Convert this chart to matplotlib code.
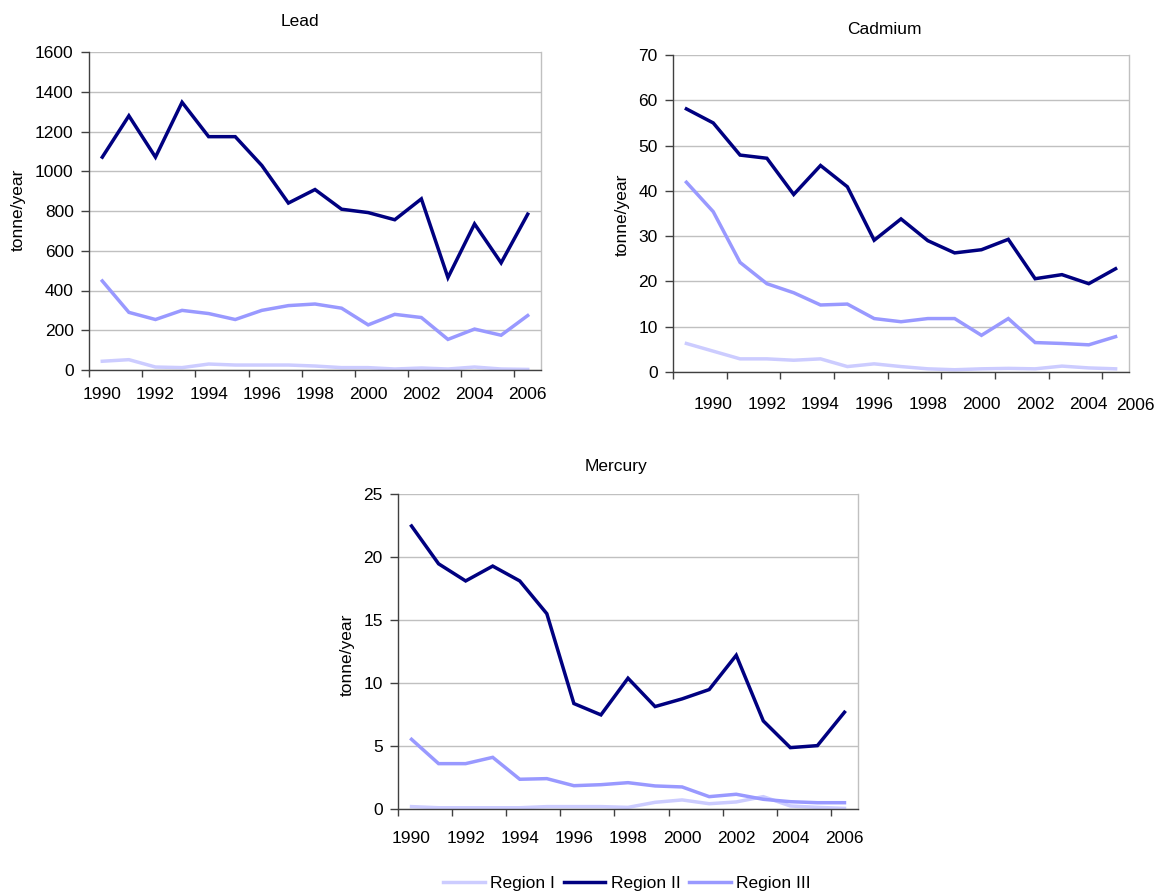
import matplotlib
matplotlib.use("Agg")
import matplotlib.pyplot as plt
from matplotlib.lines import Line2D
import numpy as np

plt.rcParams['font.family'] = ['Liberation Sans', 'DejaVu Sans']

years = list(range(1990, 2007))
series_names = ["Region I", "Region II", "Region III"]
colors = ["#CCCCFF", "#000080", "#9999FF"]

# Lead, tonne/year
lead_r1 = [44, 52, 15, 12, 30, 25, 25, 25, 20, 12, 12, 5, 10, 5, 15, 5, 3]
lead_r2 = [1071, 1279, 1071, 1347, 1174, 1174, 1029, 840, 908, 809, 792, 756, 861, 465, 735, 539, 784]
lead_r3 = [448, 290, 254, 300, 284, 254, 300, 324, 332, 311, 227, 280, 264, 154, 206, 175, 274]

# Cadmium, tonne/year
cad_r1 = [6.3, 4.6, 2.9, 2.9, 2.6, 2.9, 1.2, 1.8, 1.2, 0.7, 0.5, 0.7, 0.8, 0.7, 1.3, 0.9, 0.7]
cad_r2 = [58.1, 55.0, 47.9, 47.2, 39.2, 45.6, 40.9, 29.1, 33.8, 29.0, 26.3, 27.0, 29.3, 20.6, 21.5, 19.5, 22.8]
cad_r3 = [41.9, 35.4, 24.2, 19.5, 17.5, 14.8, 15.0, 11.8, 11.1, 11.8, 11.8, 8.1, 11.8, 6.5, 6.3, 6.0, 7.8]

# Mercury, tonne/year
hg_r1 = [0.19, 0.10, 0.10, 0.10, 0.10, 0.19, 0.19, 0.19, 0.13, 0.53, 0.72, 0.42, 0.56, 0.98, 0.24, 0.13, 0.05]
hg_r2 = [22.46, 19.46, 18.1, 19.28, 18.1, 15.5, 8.37, 7.47, 10.38, 8.13, 8.74, 9.48, 12.2, 6.99, 4.87, 5.03, 7.68]
hg_r3 = [5.53, 3.6, 3.6, 4.1, 2.36, 2.41, 1.85, 1.93, 2.09, 1.83, 1.75, 0.98, 1.17, 0.77, 0.58, 0.5, 0.5]

FS = 12.5
W, H = 1158, 892
fig = plt.figure(figsize=(W / 100, H / 100), dpi=100)


def px_axes(left, top, right, bottom):
    return fig.add_axes([left / W, 1 - bottom / H, (right - left) / W, (bottom - top) / H])


def style_axes(ax, ymax, ystep, xpad, label_offset=0):
    n = len(years)
    ax.set_xlim(-0.5, n - 0.5)
    ax.set_ylim(0, ymax)
    ax.set_yticks(np.arange(0, ymax + ystep / 2, ystep))
    ax.yaxis.grid(True, color="#C0C0C0", lw=1)
    ax.set_axisbelow(True)
    for s in ("left", "bottom"):
        ax.spines[s].set_color("#404040")
        ax.spines[s].set_linewidth(1)
    ax.spines["top"].set_visible(False)
    ax.spines["right"].set_color("#C0C0C0")
    ax.spines["right"].set_linewidth(1)
    ax.tick_params(axis="y", length=6, width=1, color="#404040", pad=5, labelsize=FS)
    # category boundaries carry the tick marks, labels sit on even years
    ax.set_xticks(np.arange(-0.5, n - 1, 2), minor=True)
    ax.tick_params(axis="x", which="minor", length=5, width=1, color="#404040")
    label_pos = [i + label_offset for i in range(0, n, 2) if i + label_offset <= n - 1]
    ax.set_xticks(label_pos)
    ax.set_xticklabels([str(years[i - label_offset]) for i in label_pos])
    ax.tick_params(axis="x", which="major", length=0, pad=xpad, labelsize=FS)


def draw(ax, r1, r2, r3):
    x = np.arange(len(years))
    for vals, c in zip((r1, r2, r3), colors):
        ax.plot(x, vals, color=c, lw=2.5, solid_joinstyle="miter")


# Lead
ax1 = px_axes(89, 52, 541, 370)
draw(ax1, lead_r1, lead_r2, lead_r3)
style_axes(ax1, 1600, 200, xpad=12)
fig.text(300 / W, 1 - 22 / H, "Lead", ha="center", va="center", fontsize=FS)
fig.text(18 / W, 1 - 210 / H, "tonne/year", ha="center", va="center", rotation=90, fontsize=FS)

# Cadmium
ax2 = px_axes(673, 55, 1129, 372)
draw(ax2, cad_r1, cad_r2, cad_r3)
style_axes(ax2, 70, 10, xpad=18, label_offset=1)
ax2.text(16.75, -0.106, "2006", transform=ax2.get_xaxis_transform(),
         ha="center", va="center", fontsize=FS, clip_on=False)
fig.text(884 / W, 1 - 30 / H, "Cadmium", ha="center", va="center", fontsize=FS)
fig.text(622 / W, 1 - 215 / H, "tonne/year", ha="center", va="center", rotation=90, fontsize=FS)

# Mercury
ax3 = px_axes(398, 494, 858, 809)
draw(ax3, hg_r1, hg_r2, hg_r3)
style_axes(ax3, 25, 5, xpad=16)
fig.text(616 / W, 1 - 467 / H, "Mercury", ha="center", va="center", fontsize=FS)
fig.text(347 / W, 1 - 655 / H, "tonne/year", ha="center", va="center", rotation=90, fontsize=FS)

handles = [Line2D([], [], color=c, lw=2.5) for c in colors]
fig.legend(handles, series_names, loc="center", bbox_to_anchor=(627 / W, 1 - 883 / H),
           ncol=3, frameon=False, fontsize=FS, handlelength=2.4, handletextpad=0.3,
           columnspacing=0.5, borderaxespad=0)

fig.savefig("out.png", dpi=100)
